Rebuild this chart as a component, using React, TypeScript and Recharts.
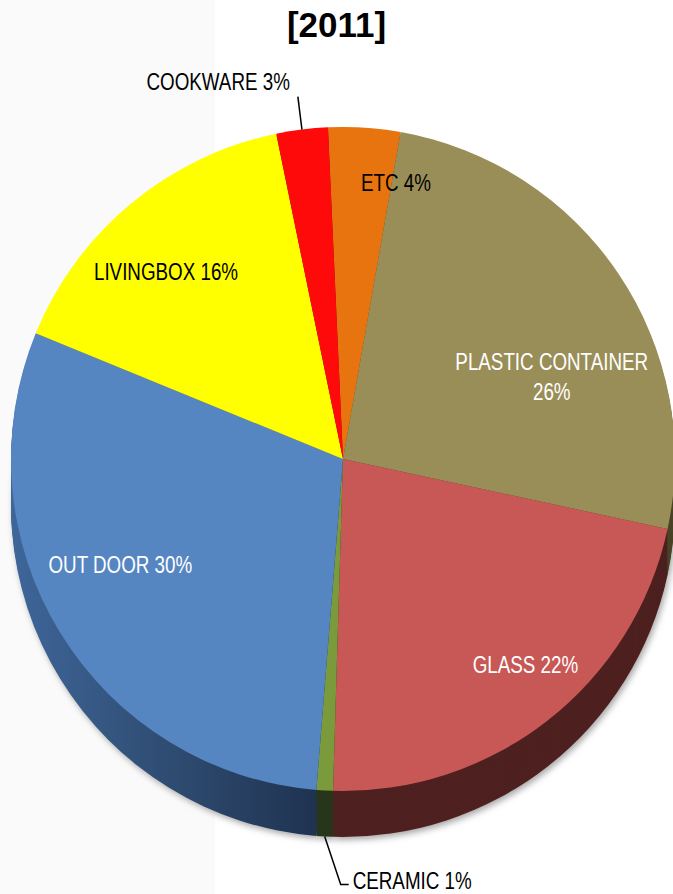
import React from 'react';
import { PieChart, Pie, Cell } from 'recharts';

const categories = ['ETC', 'PLASTIC CONTAINER', 'GLASS', 'CERAMIC', 'OUT DOOR', 'LIVINGBOX', 'COOKWARE'];
const shares = [3.5, 25.6, 22.1, 0.8, 29.9, 15.6, 2.5];
const percentLabels = ['4%', '26%', '22%', '1%', '30%', '16%', '3%'];
const topColors = ['#E8740F', '#9A8E58', '#C75855', '#7A9A3C', '#5586C2', '#FFFF00', '#FE0A0A'];
const sideColors = ['#7a3d08', '#4a4527', '#4e2020', '#27361a', 'url(#sideBlue)', '#808000', '#800000'];
const title = '[2011]';

const data = categories.map((name, i) => ({ name, value: shares[i], pct: percentLabels[i] }));

const W = 673;
const H = 894;
const CX = 338;
const CY = 454;
const R = 332;
const DEPTH = 46;
const START = 92.6;
const END = START - 360;
const FONT = "'Liberation Sans', Arial, sans-serif";
const SQUEEZE = 0.8;
const FONT_SIZE = 23.5;
const BASE_SHIFT = -5;
const RAD = Math.PI / 180;

const layerOffsets: number[] = [];
for (let k = 0; k < 23; k++) layerOffsets.push(DEPTH - k * 2);

const labelLayout = [
  { shift: 7.4, rf: 0.83, color: '#000', kind: 'in' },
  { shift: 13.7, rf: 0.67, color: '#fff', kind: 'in2' },
  { shift: -2.8, rf: 0.84, color: '#fff', kind: 'in' },
  { shift: 0, rf: 1, color: '#000', kind: 'below' },
  { shift: 5, rf: 0.75, color: '#fff', kind: 'in' },
  { shift: -4.5, rf: 0.765, color: '#000', kind: 'in' },
  { shift: 0, rf: 1, color: '#000', kind: 'above' },
];

function Narrow({ x, y, anchor, color, children }: any) {
  return (
    <text
      transform={`translate(${x},${y + BASE_SHIFT}) scale(${SQUEEZE},1)`}
      x={0}
      y={0}
      textAnchor={anchor}
      dominantBaseline="central"
      fontFamily={FONT}
      fontSize={FONT_SIZE}
      fill={color}
    >
      {children}
    </text>
  );
}

function renderLabel(props: any) {
  const { cx, cy, midAngle, outerRadius, index } = props;
  const L = labelLayout[index];
  const d = data[index];
  const ang = (midAngle - L.shift) * RAD;
  const pt = (r: number) => [cx + r * Math.cos(ang), cy - r * Math.sin(ang)];
  if (L.kind === 'in') {
    const [x, y] = pt(outerRadius * L.rf);
    return (
      <g key={`l${index}`}>
        <Narrow x={x} y={y} anchor="middle" color={L.color}>{`${d.name} ${d.pct}`}</Narrow>
      </g>
    );
  }
  if (L.kind === 'in2') {
    const [x, y] = pt(outerRadius * L.rf);
    return (
      <g key={`l${index}`}>
        <Narrow x={x} y={y - 15} anchor="middle" color={L.color}>{d.name}</Narrow>
        <Narrow x={x} y={y + 15} anchor="middle" color={L.color}>{d.pct}</Narrow>
      </g>
    );
  }
  if (L.kind === 'above') {
    const [x0, y0] = pt(outerRadius);
    const [x1, y1] = pt(outerRadius * 1.1);
    return (
      <g key={`l${index}`}>
        <line x1={x0} y1={y0} x2={x1} y2={y1} stroke="#000" strokeWidth={1.5} />
        <Narrow x={x1 - 8} y={y1 - 9} anchor="end" color={L.color}>{`${d.name} ${d.pct}`}</Narrow>
      </g>
    );
  }
  const [bx, by0] = pt(outerRadius);
  const by = by0 + DEPTH;
  const ex = bx + 16;
  const ey = by + 48;
  return (
    <g key={`l${index}`}>
      <polyline points={`${bx},${by} ${ex},${ey} ${ex + 8},${ey}`} fill="none" stroke="#000" strokeWidth={1.5} />
      <Narrow x={ex + 12} y={ey + 2} anchor="start" color={L.color}>{`${d.name} ${d.pct}`}</Narrow>
    </g>
  );
}

export default function App() {
  return (
    <div
      style={{
        position: 'absolute',
        left: 0,
        top: 0,
        width: W,
        height: H,
        background: 'linear-gradient(to right, #fafafa 0px, #fafafa 215px, #ffffff 215px)',
      }}
    >
      <div
        style={{
          position: 'absolute',
          left: 0,
          top: 7,
          width: W,
          textAlign: 'center',
          fontFamily: "'Liberation Sans', Arial, sans-serif",
          fontWeight: 'bold',
          fontSize: 35,
          lineHeight: '35px',
          color: '#000',
        }}
      >
        {title}
      </div>
      <div style={{ position: 'absolute', left: 0, top: 0 }}>
        <PieChart width={W} height={H}>
          <defs>
            <linearGradient id="sideBlue" gradientUnits="userSpaceOnUse" x1={CX - R} y1={0} x2={CX} y2={0}>
              <stop offset="0" stopColor="#3f679b" />
              <stop offset="0.6" stopColor="#2b4669" />
              <stop offset="1" stopColor="#1d2f4c" />
            </linearGradient>
            <filter id="softShadow" x="-10%" y="-10%" width="120%" height="120%">
              <feGaussianBlur stdDeviation="3" />
            </filter>
          </defs>
          <Pie
            data={data}
            dataKey="value"
            cx={CX + 2}
            cy={CY + DEPTH + 3}
            outerRadius={R}
            startAngle={START}
            endAngle={END}
            stroke="none"
            isAnimationActive={false}
            label={false}
            labelLine={false}
          >
            {data.map((d, i) => (
              <Cell key={`s${i}`} fill="#a8a8a8" filter="url(#softShadow)" />
            ))}
          </Pie>
          {layerOffsets.map((off) => (
            <Pie
              key={`layer${off}`}
              data={data}
              dataKey="value"
              cx={CX}
              cy={CY + off}
              outerRadius={R}
              startAngle={START}
              endAngle={END}
              stroke="none"
              isAnimationActive={false}
              label={false}
              labelLine={false}
            >
              {data.map((d, i) => (
                <Cell key={`c${off}-${i}`} fill={sideColors[i]} />
              ))}
            </Pie>
          ))}
          <Pie
            data={data}
            dataKey="value"
            cx={CX}
            cy={CY}
            outerRadius={R}
            startAngle={START}
            endAngle={END}
            stroke="none"
            isAnimationActive={false}
            label={renderLabel}
            labelLine={false}
          >
            {data.map((d, i) => (
              <Cell key={`t${i}`} fill={topColors[i]} />
            ))}
          </Pie>
        </PieChart>
      </div>
    </div>
  );
}
